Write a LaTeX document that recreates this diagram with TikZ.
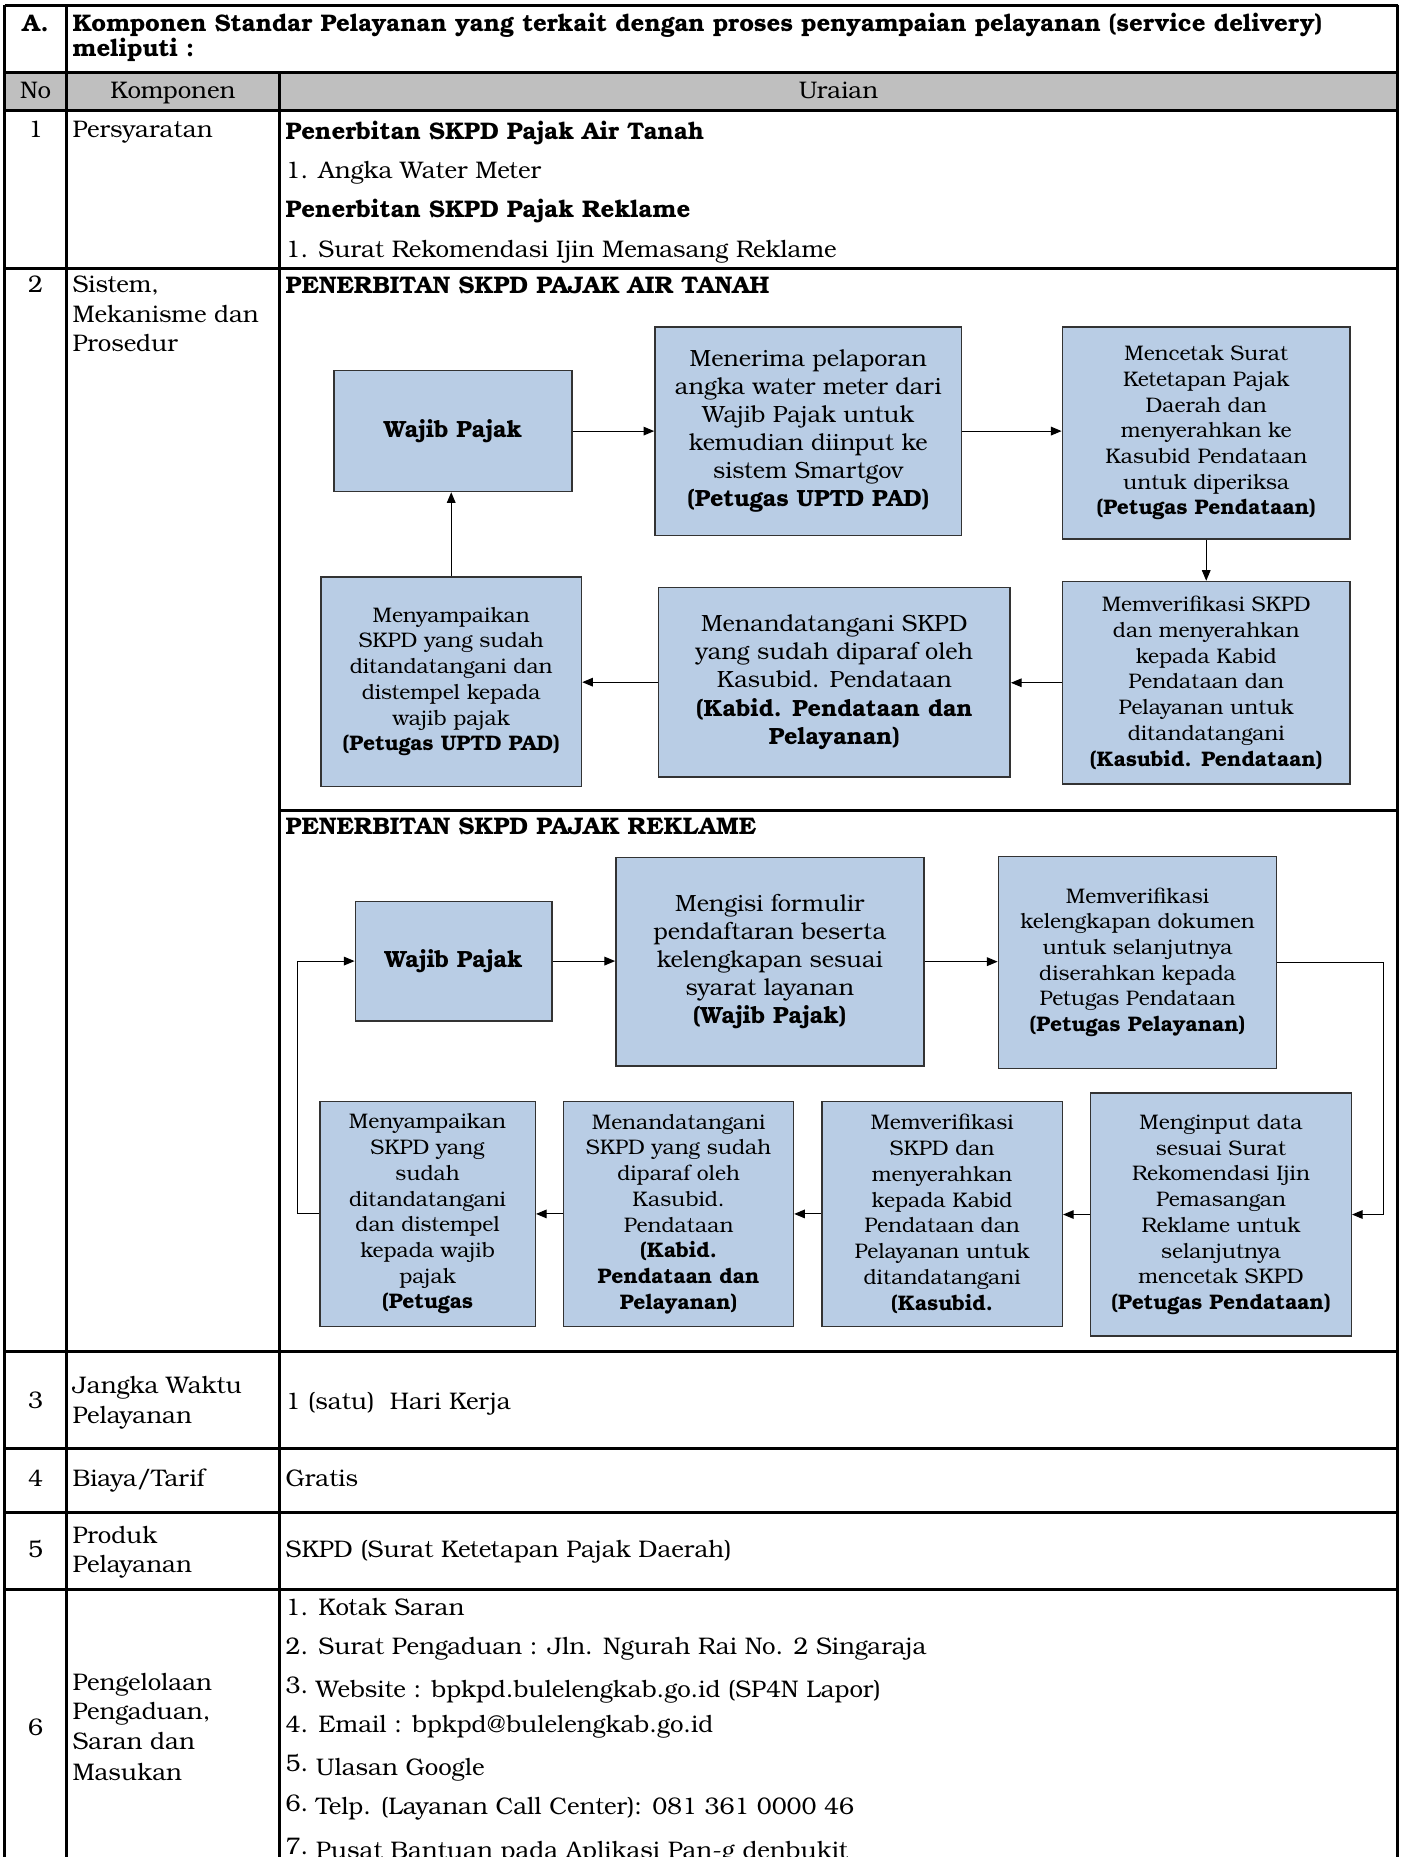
\documentclass[tikz,border=0pt]{standalone}
\usepackage{fontspec}
\setmainfont{texgyrebonum}[Extension=.otf, UprightFont=*-regular, BoldFont=*-bold, ItalicFont=*-italic, BoldItalicFont=*-bolditalic]
\usetikzlibrary{arrows.meta}

\definecolor{boxblue}{HTML}{B9CDE5}
\definecolor{headgray}{HTML}{BFBFBF}

% font sizes used in the table and in the flow boxes
\newcommand\bodyf{\fontsize{18}{22}\selectfont}
\newcommand\fbig{\fontsize{17.6}{21.1}\selectfont}
\newcommand\fsml{\fontsize{15.8}{19.3}\selectfont}

% a flow box given by its corners (x1,y1) and (x2,y2)
\newcommand\fbx[7]{%
  \node[fb, font=#7, minimum width={(#4-#2)*0.8885pt}, minimum height={(#5-#3)*0.8885pt}]
    (#1) at ({(#2+#4)/2},{(#3+#5)/2}) {#6};}

\tikzset{
  fb/.style={draw=black!80, line width=1.1pt, fill=boxblue, align=center, inner sep=1pt},
  arr/.style={-{Triangle[length=8pt,width=6.5pt]}, line width=0.8pt},
  txt/.style={anchor=base west, inner sep=0pt, font=\bodyf},
  ctxt/.style={anchor=base, inner sep=0pt, font=\bodyf},
  hline/.style={line width=2.2pt},
  vline/.style={line width=1.8pt},
}

\begin{document}
\begin{tikzpicture}[x=0.8885pt, y=-0.8885pt]
\useasboundingbox (0,0) rectangle (1186,1568);
\clip (0,0) rectangle (1186,1568);
\fill[white] (0,0) rectangle (1186,1568);

% header band
\fill[headgray] (4,61) rectangle (1180,93);

% table rules
\draw[hline] (4,5) -- (1180,5);
\draw[hline] (4,61) -- (1180,61);
\draw[hline] (4,93) -- (1180,93);
\draw[hline] (4,227) -- (1180,227);
\draw[hline] (236,684) -- (1180,684);
\draw[hline] (4,1141) -- (1180,1141);
\draw[hline] (4,1223) -- (1180,1223);
\draw[hline] (4,1277) -- (1180,1277);
\draw[hline] (4,1342) -- (1180,1342);
\draw[hline] (4,4) -- (4,1570);
\draw[hline] (1180,4) -- (1180,1570);
\draw[vline] (56,5) -- (56,1570);
\draw[vline] (236,61) -- (236,1570);

% title row
\node[ctxt, font=\bodyf\bfseries] (secA) at (30,27) {A.};
\node[txt, font=\bodyf\bfseries] (ttl1) at (61,27) {Komponen Standar Pelayanan yang terkait dengan proses penyampaian pelayanan (service delivery)};
\node[txt, font=\bodyf\bfseries] (ttl2) at (61,48) {meliputi :};

% column heads
\node[ctxt] (hNo) at (30,83) {No};
\node[ctxt] (hKomp) at (146,83) {Komponen};
\node[ctxt] (hUr) at (708,83) {Uraian};

% row 1
\node[ctxt] (n1) at (30,116) {1};
\node[txt] (k1) at (61,116) {Persyaratan};
\node[txt, font=\bodyf\bfseries] (u1a) at (241,118) {Penerbitan SKPD Pajak Air Tanah};
\node[txt] (u1b) at (241,151) {1. Angka Water Meter};
\node[txt, font=\bodyf\bfseries] (u1c) at (241,184) {Penerbitan SKPD Pajak Reklame};
\node[txt] (u1d) at (241,217) {1. Surat Rekomendasi Ijin Memasang Reklame};

% row 2
\node[ctxt] (n2) at (30,247) {2};
\node[txt] (k2a) at (61,247) {Sistem,};
\node[txt] (k2b) at (61,272) {Mekanisme dan};
\node[txt] (k2c) at (61,297) {Prosedur};
\node[txt, font=\bodyf\bfseries] (hAir) at (241,248) {PENERBITAN SKPD PAJAK AIR TANAH};
\node[txt, font=\bodyf\bfseries] (hRek) at (241,705) {PENERBITAN SKPD PAJAK REKLAME};

% flow: pajak air tanah
\fbx{wpa}{282}{313}{483}{415}{\textbf{Wajib Pajak}}{\fbig}
\fbx{ta1}{553}{276}{812}{452}{Menerima pelaporan\\angka water meter dari\\Wajib Pajak untuk\\kemudian diinput ke\\sistem Smartgov\\\textbf{(Petugas UPTD PAD)}}{\fbig}
\fbx{ta2}{897}{276}{1140}{455}{Mencetak Surat\\Ketetapan Pajak\\Daerah dan\\menyerahkan ke\\Kasubid Pendataan\\untuk diperiksa\\\textbf{(Petugas Pendataan)}}{\fsml}
\fbx{ta3}{897}{491}{1140}{662}{Memverifikasi SKPD\\dan menyerahkan\\kepada Kabid\\Pendataan dan\\Pelayanan untuk\\ditandatangani\\\textbf{(Kasubid. Pendataan)}}{\fsml}
\fbx{ta4}{556}{496}{853}{656}{Menandatangani SKPD\\yang sudah diparaf oleh\\Kasubid. Pendataan\\\textbf{(Kabid. Pendataan dan}\\\textbf{Pelayanan)}}{\fbig}
\fbx{ta5}{271}{487}{491}{664}{Menyampaikan\\SKPD yang sudah\\ditandatangani dan\\distempel kepada\\wajib pajak\\\textbf{(Petugas UPTD PAD)}}{\fsml}

\draw[arr] (wpa.east) -- (wpa.east -| ta1.west);
\draw[arr] (ta1.east) -- (ta1.east -| ta2.west);
\draw[arr] (ta2.south) -- (ta2.south |- ta3.north);
\draw[arr] (ta3.west) -- (ta3.west -| ta4.east);
\draw[arr] (ta4.west) -- (ta4.west -| ta5.east);
\draw[arr] (ta5.north) -- (ta5.north |- wpa.south);

% flow: pajak reklame
\fbx{wpb}{300}{761}{466}{862}{\textbf{Wajib Pajak}}{\fbig}
\fbx{tb1}{520}{724}{780}{900}{Mengisi formulir\\pendaftaran beserta\\kelengkapan sesuai\\syarat layanan\\\textbf{(Wajib Pajak)}}{\fbig}
\fbx{tb2}{843}{723}{1078}{902}{Memverifikasi\\kelengkapan dokumen\\untuk selanjutnya\\diserahkan kepada\\Petugas Pendataan\\\textbf{(Petugas Pelayanan)}}{\fsml}
\fbx{tb3}{921}{923}{1141}{1128}{Menginput data\\sesuai Surat\\Rekomendasi Ijin\\Pemasangan\\Reklame untuk\\selanjutnya\\mencetak SKPD\\\textbf{(Petugas Pendataan)}}{\fsml}
\fbx{tb4}{694}{930}{897}{1120}{Memverifikasi\\SKPD dan\\menyerahkan\\kepada Kabid\\Pendataan dan\\Pelayanan untuk\\ditandatangani\\\textbf{(Kasubid.}}{\fsml}
\fbx{tb5}{476}{930}{670}{1120}{Menandatangani\\SKPD yang sudah\\diparaf oleh\\Kasubid.\\Pendataan\\\textbf{(Kabid.}\\\textbf{Pendataan dan}\\\textbf{Pelayanan)}}{\fsml}
\fbx{tb6}{270}{930}{452}{1120}{Menyampaikan\\SKPD yang\\sudah\\ditandatangani\\dan distempel\\kepada wajib\\pajak\\\textbf{(Petugas}}{\fsml}

\coordinate (rt) at (1168,900);
\coordinate (lt) at (251,900);
\draw[arr] (wpb.east) -- (wpb.east -| tb1.west);
\draw[arr] (tb1.east) -- (tb1.east -| tb2.west);
\draw[arr] (tb2.east) -| (rt) |- (tb3.east);
\draw[arr] (tb3.west) -- (tb3.west -| tb4.east);
\draw[arr] (tb4.west) -- (tb4.west -| tb5.east);
\draw[arr] (tb5.west) -- (tb5.west -| tb6.east);
\draw[arr] (tb6.west) -| (lt) |- (wpb.west);

% row 3
\node[ctxt] (n3) at (30,1189) {3};
\node[txt] (k3a) at (61,1177) {Jangka Waktu};
\node[txt] (k3b) at (61,1202) {Pelayanan};
\node[txt] (u3) at (241,1190) {1 (satu)\ \ Hari Kerja};

% row 4
\node[ctxt] (n4) at (30,1255) {4};
\node[txt] (k4) at (61,1255) {Biaya/Tarif};
\node[txt] (u4) at (241,1255) {Gratis};

% row 5
\node[ctxt] (n5) at (30,1315) {5};
\node[txt] (k5a) at (61,1303) {Produk};
\node[txt] (k5b) at (61,1328) {Pelayanan};
\node[txt] (u5) at (241,1315) {SKPD (Surat Ketetapan Pajak Daerah)};

% row 6
\node[ctxt] (n6) at (30,1465) {6};
\node[txt] (k6a) at (61,1427) {Pengelolaan};
\node[txt] (k6b) at (61,1452) {Pengaduan,};
\node[txt] (k6c) at (61,1477) {Saran dan};
\node[txt] (k6d) at (61,1503) {Masukan};
\node[txt] (u6a) at (241,1364) {1. Kotak Saran};
\node[txt] (u6b) at (241,1397) {2. Surat Pengaduan : Jln. Ngurah Rai No. 2 Singaraja};
\node[txt] (u6c) at (241,1433) {\raisebox{2.5pt}{3.} Website : bpkpd.bulelengkab.go.id (SP4N Lapor)};
\node[txt] (u6d) at (241,1463) {4. Email : bpkpd@bulelengkab.go.id};
\node[txt] (u6e) at (241,1499) {\raisebox{2.5pt}{5.} Ulasan Google};
\node[txt] (u6f) at (241,1532) {\raisebox{2.5pt}{6.} Telp. (Layanan Call Center): 081 361 0000 46};
\node[txt] (u6g) at (241,1569) {\raisebox{2.5pt}{7.} Pusat Bantuan pada Aplikasi Pan-g denbukit};
\end{tikzpicture}
\end{document}
